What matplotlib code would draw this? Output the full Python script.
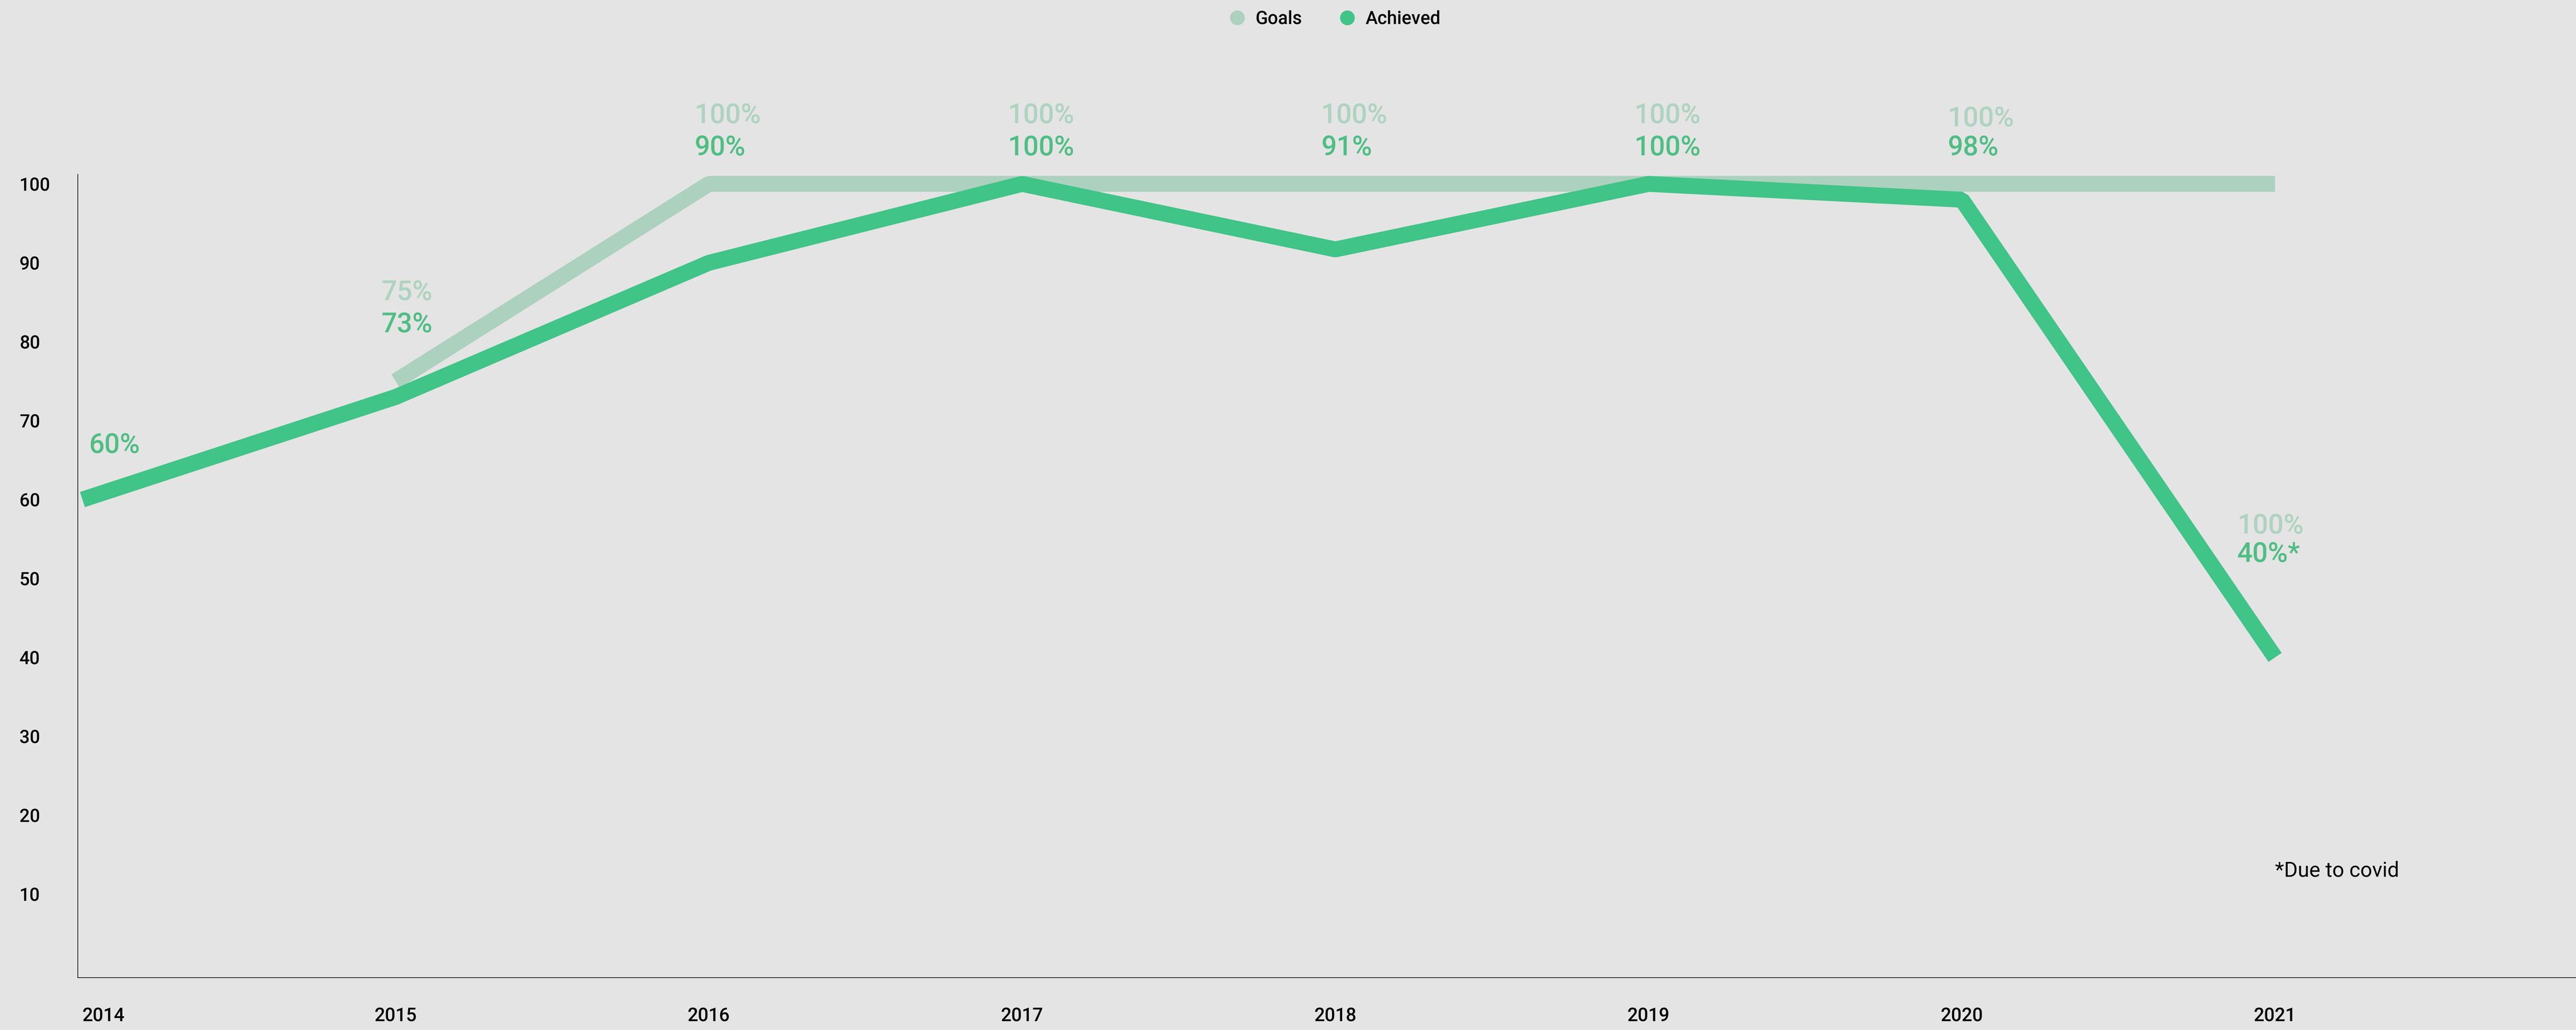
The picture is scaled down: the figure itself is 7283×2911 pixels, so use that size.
import numpy as np
import matplotlib
matplotlib.use("Agg")
import matplotlib.pyplot as plt
from matplotlib.lines import Line2D

plt.rcParams['font.family'] = ['Roboto', 'DejaVu Sans']

# ---------------- data ----------------
years = [2014, 2015, 2016, 2017, 2018, 2019, 2020, 2021]
goals = [np.nan, 75, 100, 100, 100, 100, 100, 100]
achieved = [60, 73, 90, 100, 91.7, 100, 98, 40]
goal_labels = ['', '75%', '100%', '100%', '100%', '100%', '100%', '100%']
achieved_labels = ['60%', '73%', '90%', '100%', '91%', '100%', '98%', '40%*']
yticks = [10, 20, 30, 40, 50, 60, 70, 80, 90, 100]
series_names = ['Goals', 'Achieved']
note = '*Due to covid'

# ---------------- layout / style ----------------
W, H, DPI = 7283, 2911, 100
BG = '#E4E4E4'
GOAL_C = '#ACD1BF'
ACH_C = '#40C487'
GOAL_TXT = '#AED3C1'
ACH_TXT = '#4FBE84'

label_dx_pt = [13, -29, -29, -29, -29, -29, -29, -77]
goal_label_y = [None, 85.3, 107.7, 107.7, 107.7, 107.7, 107.3, 55.7]
ach_label_y = [65.9, 81.2, 103.6, 103.6, 103.6, 103.6, 103.6, 52.1]

fig = plt.figure(figsize=(W / DPI, H / DPI), dpi=DPI, facecolor=BG)
ax = fig.add_axes([220 / W, 1 - 2763 / H, 1 - 220 / W, (2763 - 493) / H])
ax.set_facecolor(BG)

px_per_year = 885.6
ax.set_xlim(2014 - 13 / px_per_year, 2014 + (W - 233) / px_per_year)
ax.set_ylim(-0.58, 101.2)

lw = 45 / (DPI / 72)
ax.plot(years, goals, color=GOAL_C, lw=lw, solid_capstyle='butt',
        solid_joinstyle='bevel', clip_on=False, zorder=2)
ax.plot(years, achieved, color=ACH_C, lw=lw, solid_capstyle='butt',
        solid_joinstyle='bevel', clip_on=False, zorder=3)

for i, yr in enumerate(years):
    if goal_labels[i]:
        ax.annotate(goal_labels[i], xy=(yr, goal_label_y[i]), xytext=(label_dx_pt[i], 0),
                    textcoords='offset points', ha='left', va='baseline',
                    fontsize=55.5, fontweight='medium', color=GOAL_TXT, annotation_clip=False)
    ax.annotate(achieved_labels[i], xy=(yr, ach_label_y[i]), xytext=(label_dx_pt[i], 0),
                textcoords='offset points', ha='left', va='baseline',
                fontsize=55.5, fontweight='medium', color=ACH_TXT, annotation_clip=False)

ax.text(years[-1], 12.2, note, ha='left', va='baseline', fontsize=42.5, color='black')

# spines & ticks
for s in ['top', 'right']:
    ax.spines[s].set_visible(False)
for s in ['left', 'bottom']:
    ax.spines[s].set_color('#222222')
    ax.spines[s].set_linewidth(1.6)

ax.set_yticks(yticks)
ax.set_yticklabels([str(v) for v in yticks])
ax.set_xticks(years)
ax.set_xticklabels([str(y) for y in years])
ax.tick_params(axis='y', length=0, pad=(220 - 55) / (DPI / 72), labelsize=37, labelcolor='black')
ax.tick_params(axis='x', length=0, pad=60, labelsize=38, labelcolor='black')
for t in ax.get_yticklabels():
    t.set_horizontalalignment('left')
    t.set_fontweight('medium')
for t in ax.get_xticklabels():
    t.set_fontweight('medium')
ax.get_xticklabels()[0].set_horizontalalignment('left')

# legend
handles = [Line2D([], [], marker='o', linestyle='', markersize=29, color=GOAL_C),
           Line2D([], [], marker='o', linestyle='', markersize=29, color=ACH_C)]
fig.legend(handles, series_names, loc='center', bbox_to_anchor=(0.518, 1 - 54 / H),
           ncol=2, frameon=False, handlelength=1.0, handletextpad=0.5,
           columnspacing=2.0, borderpad=0, prop={'weight': 'medium', 'size': 37})

fig.savefig('out.png', dpi=DPI, facecolor=BG)
